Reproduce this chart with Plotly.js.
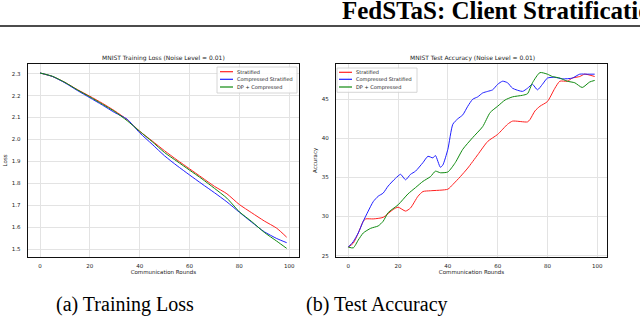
<!DOCTYPE html>
<html><head><meta charset="utf-8">
<script src="https://cdn.plot.ly/plotly-3.0.1.min.js"></script>
<style>html,body{margin:0;padding:0;background:#fff}#chart{width:640px;height:319px}</style>
</head><body><div id="chart"></div>
<script>
// ---- data ----
const seriesNames = ["Stratified", "Compressed Stratified", "DP + Compressed"];
const seriesColors = ["#ff2020", "#2020ff", "#108a10"];

const lossRounds = [0,5,10,15,20,25,30,35,40,45,50,55,60,65,70,75,80,85,90,95,99];
const lossStratified = [2.303,2.287,2.260,2.227,2.197,2.165,2.130,2.090,2.037,1.993,1.948,1.906,1.866,1.826,1.786,1.752,1.703,1.665,1.628,1.595,1.554];
const lossCompressed = [2.303,2.287,2.258,2.223,2.190,2.157,2.122,2.092,2.030,1.978,1.925,1.880,1.838,1.797,1.757,1.715,1.668,1.622,1.579,1.548,1.529];
const lossDP = [2.303,2.288,2.260,2.226,2.194,2.161,2.127,2.085,2.037,1.990,1.940,1.900,1.860,1.820,1.777,1.732,1.670,1.625,1.576,1.536,1.503];

const accRoundsStratified = [0,2,4,6,7,10,14,18,20,23,25,28,30,33,40,42,45,48,52,56,60,64,66,72,73,75,77,80,83,85,88,90,93,95,99];
const accStratified = [26.1,26.6,27.9,29.4,29.7,29.7,29.9,30.9,31.2,30.7,31.1,32.6,33.2,33.3,33.5,34.1,35.1,36.2,37.9,39.6,40.5,41.8,42.2,42.1,42.4,43.5,44.1,44.7,46.4,47.3,47.3,47.7,47.9,48.2,47.9];
const accRoundsCompressed = [0,2,4,6,8,10,12,14,16,19,21,23,25,27,30,32,34,35,37,38,40,42,44,46,48,50,52,54,56,58,60,62,64,66,70,72,74,76,78,80,83,86,90,93,96,99];
const accCompressed = [26.1,26.8,27.9,29.4,30.7,31.9,32.6,33.0,33.9,34.9,35.4,34.7,35.4,35.8,36.9,37.7,37.5,37.8,36.3,36.6,38.6,41.8,42.5,43.0,44.1,45.0,45.3,45.8,46.0,46.2,46.9,47.3,47.1,46.4,46.0,46.4,46.9,46.2,46.9,47.7,47.8,47.6,47.7,48.2,48.2,48.2];
const accRoundsDP = [0,2,4,6,9,12,14,16,20,24,27,30,33,35,37,40,43,46,50,54,57,60,63,66,70,72,74,77,80,82,85,88,91,94,97,99];
const accDP = [26.1,26.0,27.0,27.9,28.5,28.8,29.4,30.5,31.5,32.9,33.7,34.5,35.1,35.8,35.6,35.7,36.9,38.6,40.1,41.5,43.3,44.1,44.9,45.3,45.5,45.7,47.1,48.4,48.2,47.9,47.7,47.3,47.1,46.5,47.2,47.4];

const lossTicks = [1.5,1.6,1.7,1.8,1.9,2.0,2.1,2.2,2.3];
const accTicks = [25,30,35,40,45];
const roundTicks = [0,20,40,60,80,100];

// ---- helpers ----
const W = 640, H = 319;
const px = x => x / W, py = y => 1 - y / H;
const sans = "DejaVu Sans, sans-serif";
const serif = "Liberation Serif, Times New Roman, serif";

const traces = [
  {x: lossRounds, y: lossStratified, name: seriesNames[0], color: seriesColors[0]},
  {x: lossRounds, y: lossCompressed, name: seriesNames[1], color: seriesColors[1]},
  {x: lossRounds, y: lossDP, name: seriesNames[2], color: seriesColors[2]},
  {x: accRoundsStratified, y: accStratified, name: seriesNames[0], color: seriesColors[0], xaxis: "x2", yaxis: "y2"},
  {x: accRoundsCompressed, y: accCompressed, name: seriesNames[1], color: seriesColors[1], xaxis: "x2", yaxis: "y2"},
  {x: accRoundsDP, y: accDP, name: seriesNames[2], color: seriesColors[2], xaxis: "x2", yaxis: "y2"}
].map(t => ({
  type: "scatter", mode: "lines", showlegend: false, name: t.name,
  x: t.x, y: t.y, xaxis: t.xaxis || "x", yaxis: t.yaxis || "y",
  line: {color: t.color, width: 1, shape: "spline", smoothing: 0.6}
}));

const axisCommon = {
  showgrid: true, gridcolor: "#e3e3e3", gridwidth: 1, zeroline: false,
  showline: true, linecolor: "#111", linewidth: 1.2, mirror: true,
  ticks: "", tickfont: {family: sans, size: 5.5, color: "#222"}
};
const titleFont = {family: sans, size: 5.5, color: "#222"};

const layout = {
  width: W, height: H, autosize: false,
  margin: {l: 0, r: 0, t: 0, b: 0},
  paper_bgcolor: "#fff", plot_bgcolor: "#fff",
  showlegend: false,
  xaxis: Object.assign({}, axisCommon, {domain: [px(27.7), px(299)], range: [-4.95, 103.95], tickvals: roundTicks, ticklabelstandoff: 3,
    title: {text: "Communication Rounds", font: titleFont, standoff: 2}, anchor: "y"}),
  yaxis: Object.assign({}, axisCommon, {domain: [py(256.7), py(64)], range: [1.465, 2.344], tickvals: lossTicks, tickformat: ".1f", ticklabelstandoff: 5,
    title: {text: "Loss", font: titleFont, standoff: 3}, anchor: "x"}),
  xaxis2: Object.assign({}, axisCommon, {domain: [px(336), px(607)], range: [-4.95, 103.95], tickvals: roundTicks, ticklabelstandoff: 3,
    title: {text: "Communication Rounds", font: titleFont, standoff: 2}, anchor: "y2"}),
  yaxis2: Object.assign({}, axisCommon, {domain: [py(256.7), py(64)], range: [24.87, 49.5], tickvals: accTicks, ticklabelstandoff: 5,
    title: {text: "Accuracy", font: titleFont, standoff: 3}, anchor: "x2"}),
  shapes: [
    {type: "line", xref: "paper", yref: "paper", x0: 0, x1: 1, y0: py(26), y1: py(26), line: {color: "#111", width: 1.5}}
  ],
  annotations: [
    {text: "<b>FedSTaS: Client Stratification</b>", xref: "paper", yref: "paper", x: px(340), y: py(11), xanchor: "left", yanchor: "middle", showarrow: false, font: {family: serif, size: 25, color: "#000"}},
    {text: "MNIST Training Loss (Noise Level = 0.01)", xref: "paper", yref: "paper", x: px(163), y: py(58), xanchor: "center", yanchor: "middle", showarrow: false, font: {family: sans, size: 6, color: "#222"}},
    {text: "MNIST Test Accuracy (Noise Level = 0.01)", xref: "paper", yref: "paper", x: px(472), y: py(58), xanchor: "center", yanchor: "middle", showarrow: false, font: {family: sans, size: 6, color: "#222"}},
    {text: "(a) Training Loss", xref: "paper", yref: "paper", x: px(125), y: py(304), xanchor: "center", yanchor: "middle", showarrow: false, font: {family: serif, size: 20, color: "#000"}},
    {text: "(b) Test Accuracy", xref: "paper", yref: "paper", x: px(377), y: py(304), xanchor: "center", yanchor: "middle", showarrow: false, font: {family: serif, size: 20, color: "#000"}}
  ]
};

// compact legends drawn as shapes + text
function addLegend(bx0, by0, bx1, by1, lineX0, lineX1, textX, rows) {
  layout.shapes.push({type: "rect", xref: "paper", yref: "paper", x0: px(bx0), x1: px(bx1), y0: py(by0), y1: py(by1), line: {color: "#cccccc", width: 0.8}, fillcolor: "rgba(255,255,255,0.85)"});
  seriesNames.forEach((n, i) => {
    layout.shapes.push({type: "line", xref: "paper", yref: "paper", x0: px(lineX0), x1: px(lineX1), y0: py(rows[i]), y1: py(rows[i]), line: {color: seriesColors[i], width: 1.2}});
    layout.annotations.push({text: n, xref: "paper", yref: "paper", x: px(textX), y: py(rows[i]), xanchor: "left", yanchor: "middle", showarrow: false, font: {family: sans, size: 5, color: "#222"}});
  });
}
addLegend(217, 67, 297, 93, 220, 233, 235, [71.7, 79.3, 87]);
addLegend(337, 68, 417, 92.3, 339, 352, 354, [72.3, 79.3, 87]);

Plotly.newPlot("chart", traces, layout, {staticPlot: true, displayModeBar: false});
</script>
</body></html>
